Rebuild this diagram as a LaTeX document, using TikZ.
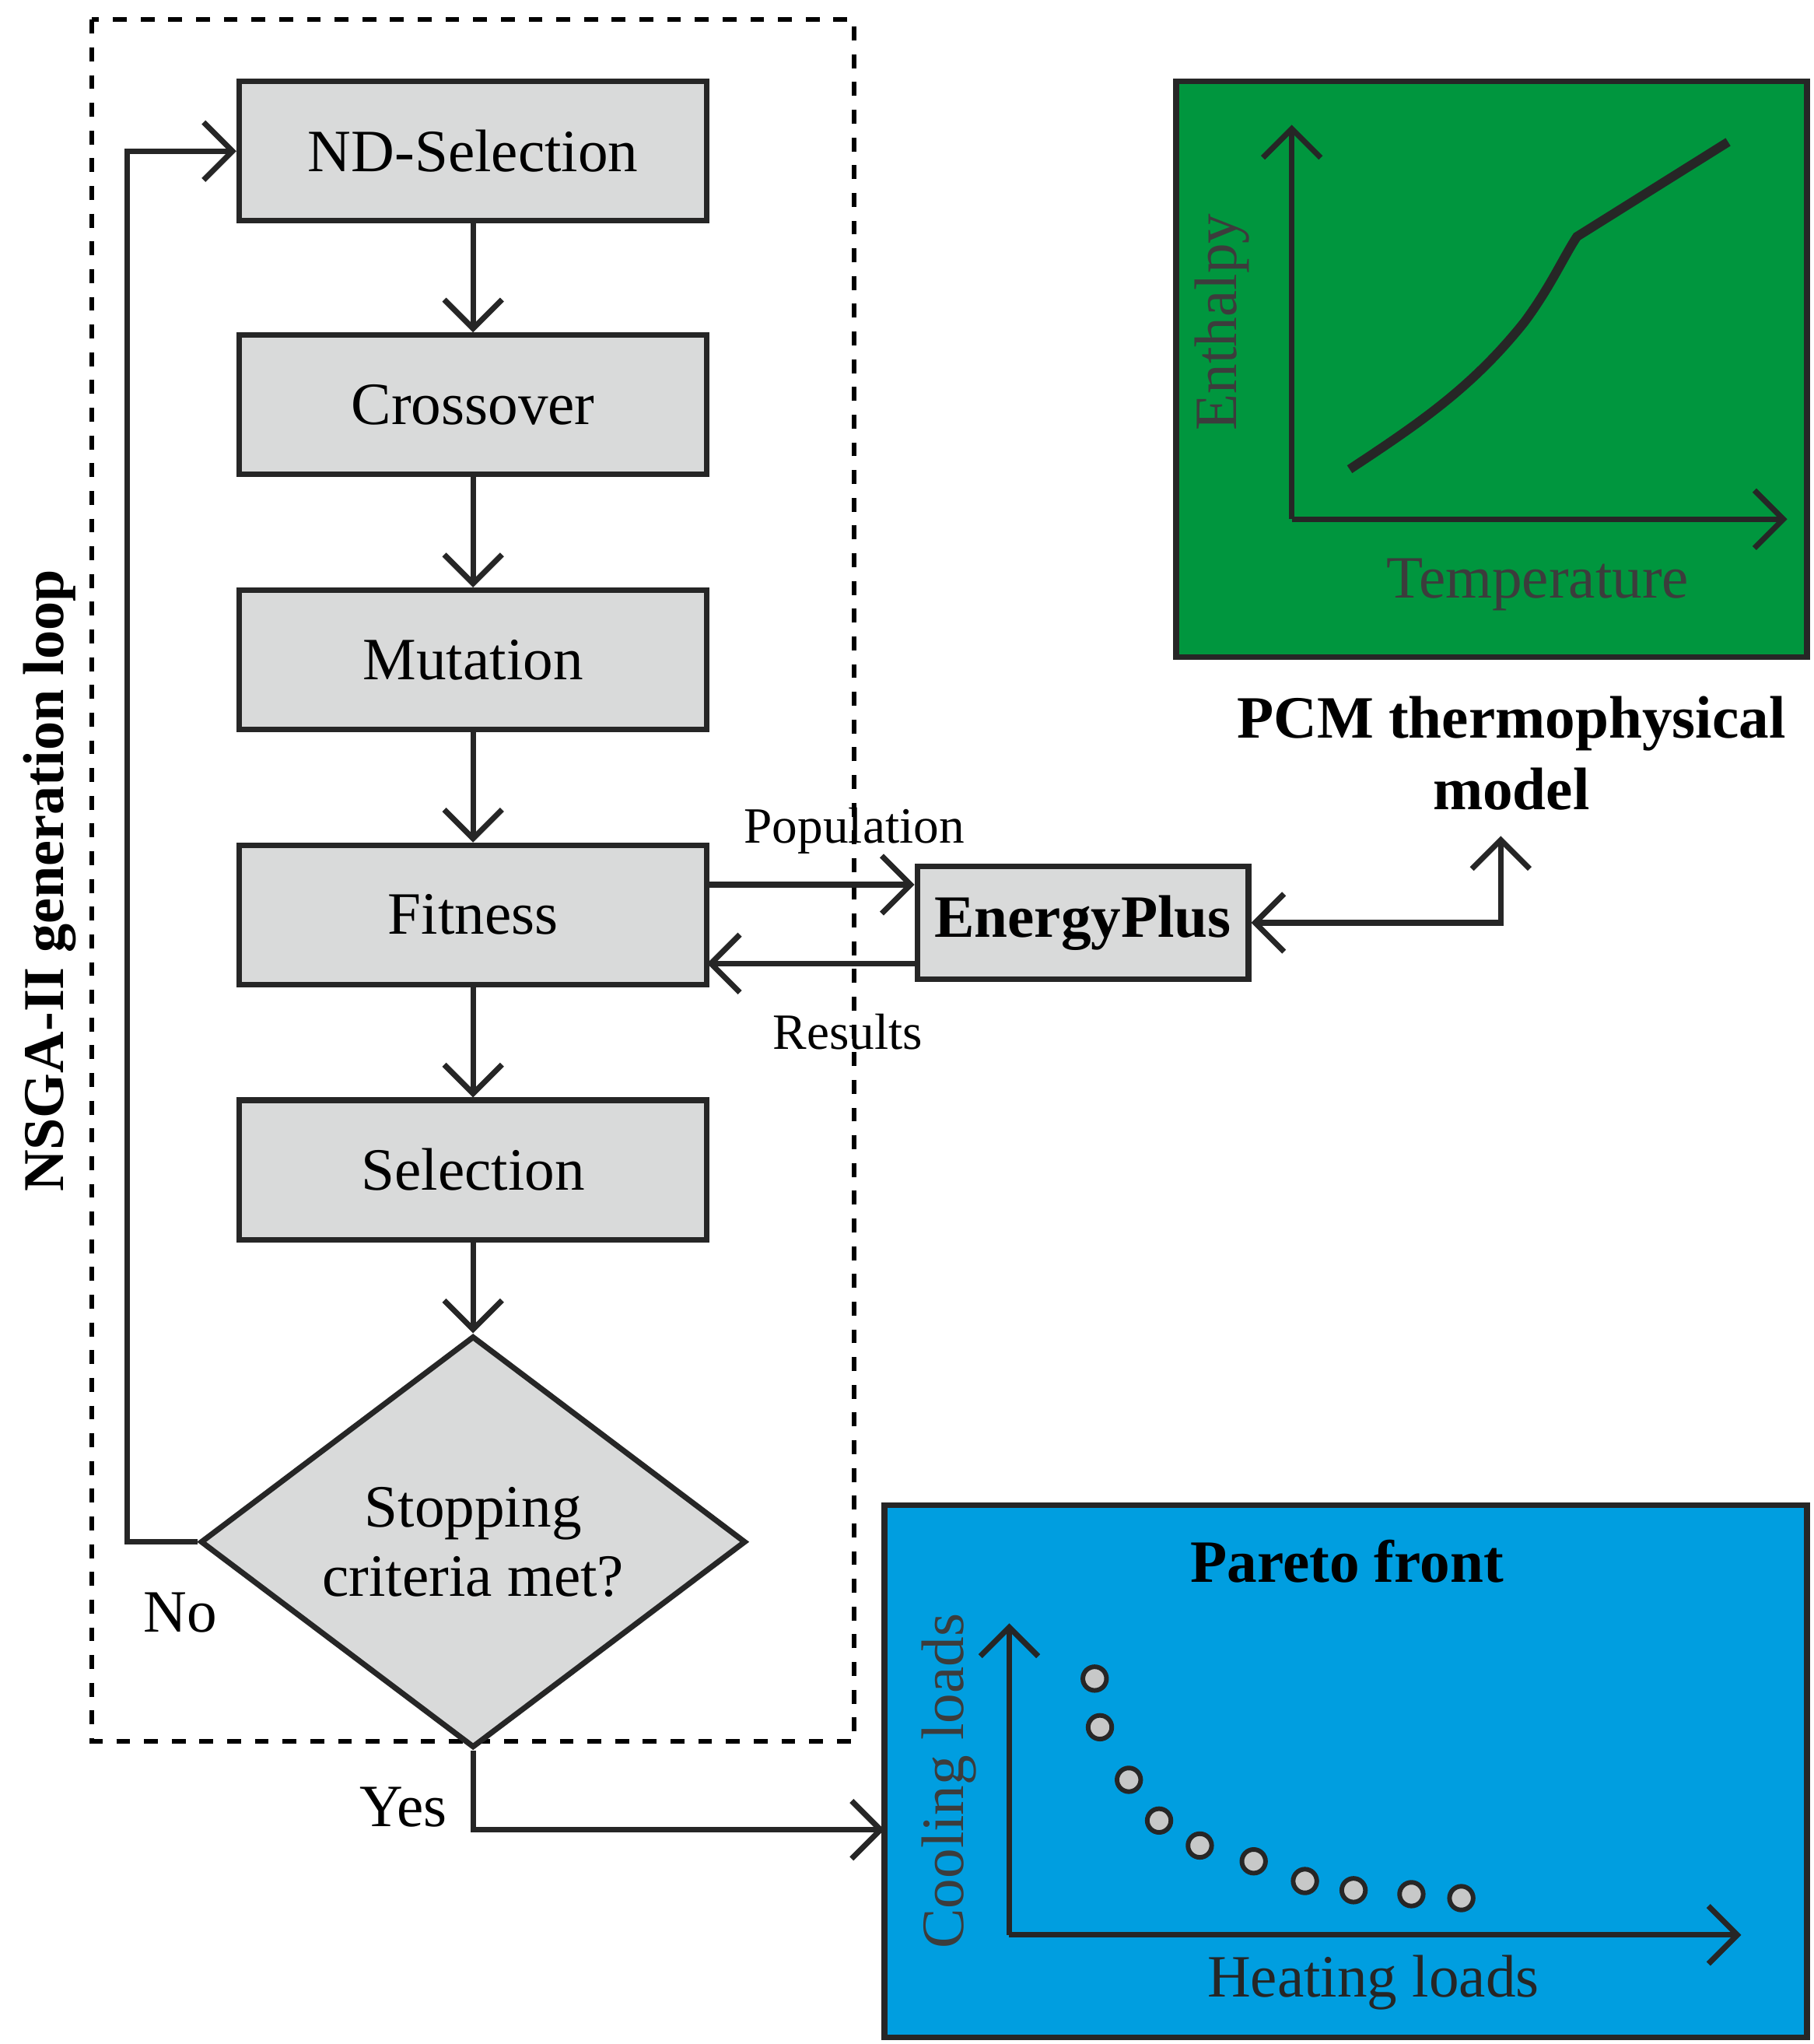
\documentclass[tikz,border=0pt]{standalone}
\usepackage{fontspec}
\setmainfont{Liberation Serif}
\usetikzlibrary{arrows.meta,shapes.geometric,positioning}
\definecolor{pcmgreen}{RGB}{0,150,62}
\definecolor{paretoblue}{RGB}{0,158,224}
\definecolor{boxgray}{RGB}{217,218,218}
\definecolor{axisgray}{RGB}{60,60,60}
\tikzset{
  stepbox/.style={draw=black!85,line width=1.2pt,fill=boxgray,minimum width=35.6mm,minimum height=10.6mm,font=\fontsize{13}{15}\selectfont},
  arr/.style={line width=1.2pt,draw=black!85,-{Straight Barb[length=2.2mm,width=4.4mm,line width=1.2pt]}},
  lbl/.style={font=\fontsize{11}{13}\selectfont},
  dot/.style={circle,draw=black!85,line width=1pt,fill=boxgray!80!gray,inner sep=0pt,minimum size=1.8mm}
}
\begin{document}
\begin{tikzpicture}[x=0.1mm,y=-0.1mm]
\useasboundingbox (0,0) rectangle (1380,1555);
% loop frame
\draw[dashed,line width=1pt] (70,15) rectangle (650,1325);
\node[rotate=90,font=\bfseries\fontsize{12.5}{14}\selectfont] (loop) at (38,670) {NSGA-II generation loop};
% steps
\node[stepbox] (nds) at (360,115) {ND-Selection};
\node[stepbox] (cross) at (360,308) {Crossover};
\node[stepbox] (mut) at (360,502) {Mutation};
\node[stepbox] (fit) at (360,696) {Fitness};
\node[stepbox] (sel) at (360,890) {Selection};
\node[diamond,draw=black!85,line width=1.2pt,fill=boxgray,minimum width=41.5mm,minimum height=28.3mm,inner sep=0pt,align=center,font=\fontsize{13}{15}\selectfont] (stop) at (360,1173) {Stopping\\criteria met?};
\draw[arr] (nds) -- (cross);
\draw[arr] (cross) -- (mut);
\draw[arr] (mut) -- (fit);
\draw[arr] (fit) -- (sel);
\draw[arr] (sel) -- (stop);
\draw[arr] (stop.west) -- (97,1173) |- (nds.west);
\node[font=\fontsize{13}{15}\selectfont] (no) at (137,1227) {No};
% energyplus
\node[stepbox,minimum width=25.2mm,minimum height=8.6mm,font=\bfseries\fontsize{13}{15}\selectfont] (ep) at (824,702) {EnergyPlus};
\coordinate (popA) at (538,673);
\coordinate (resA) at (538,733);
\draw[arr] (popA) -- (popA -| ep.west);
\draw[arr] (resA -| ep.west) -- (resA);
\node[lbl] (pop) at (650,632) {Population};
\node[lbl] (res) at (645,785) {Results};
% pcm model
\fill[pcmgreen] (895,62) rectangle (1375,500);
\draw[line width=1.2pt,draw=black!85] (895,62) rectangle (1375,500);
\coordinate (o1) at (983,395);
\coordinate (ytop1) at (983,95);
\coordinate (xend1) at (1360,395);
\draw[arr] (o1) -- (ytop1);
\draw[arr] (o1) -- (xend1);
\draw[line width=2pt,black!85] (1027,357) .. controls (1080,322) and (1120,295) .. (1160,245) .. controls (1180,218) and (1190,195) .. (1200,180) -- (1315,108);
\node[rotate=90,text=axisgray,font=\fontsize{13}{15}\selectfont] (enth) at (930,245) {Enthalpy};
\node[text=axisgray,font=\fontsize{13}{15}\selectfont] (temp) at (1170,445) {Temperature};
\node[align=center,font=\bfseries\fontsize{13}{15.5}\selectfont] (pcm) at (1150,573) {PCM thermophysical\\model};
\coordinate (bend) at (1142,702);
\draw[line width=1.2pt,draw=black!85,{Straight Barb[length=2.2mm,width=4.4mm,line width=1.2pt]}-{Straight Barb[length=2.2mm,width=4.4mm,line width=1.2pt]}] (ep.east) -- (bend) -- (1142,636);
% pareto front
\fill[paretoblue] (673,1145) rectangle (1375,1550);
\draw[line width=1.2pt,draw=black!85] (673,1145) rectangle (1375,1550);
\node[font=\bfseries\fontsize{13}{15}\selectfont] (pf) at (1025,1188) {Pareto front};
\coordinate (o2) at (768,1472);
\draw[arr] (o2) -- (768,1235);
\draw[arr] (o2) -- (1325,1472);
\node[rotate=90,text=axisgray,font=\fontsize{13}{15}\selectfont] (cool) at (722,1355) {Cooling loads};
\node[text=black!85,font=\fontsize{13}{15}\selectfont] (heat) at (1045,1508) {Heating loads};
\foreach \px/\py in {833/1277,837/1314,859/1354,882/1385,913/1404,954/1416,993/1431,1030/1438,1074/1441,1112/1444}{
  \node[dot] at (\px,\py) {};
}
% exit
\coordinate (yesB) at (360,1392);
\coordinate (yesC) at (673,1392);
\draw[arr] (stop.south) -- (yesB) -- (yesC);
\node[font=\fontsize{13}{15}\selectfont] (yes) at (307,1375) {Yes};
\end{tikzpicture}
\end{document}
